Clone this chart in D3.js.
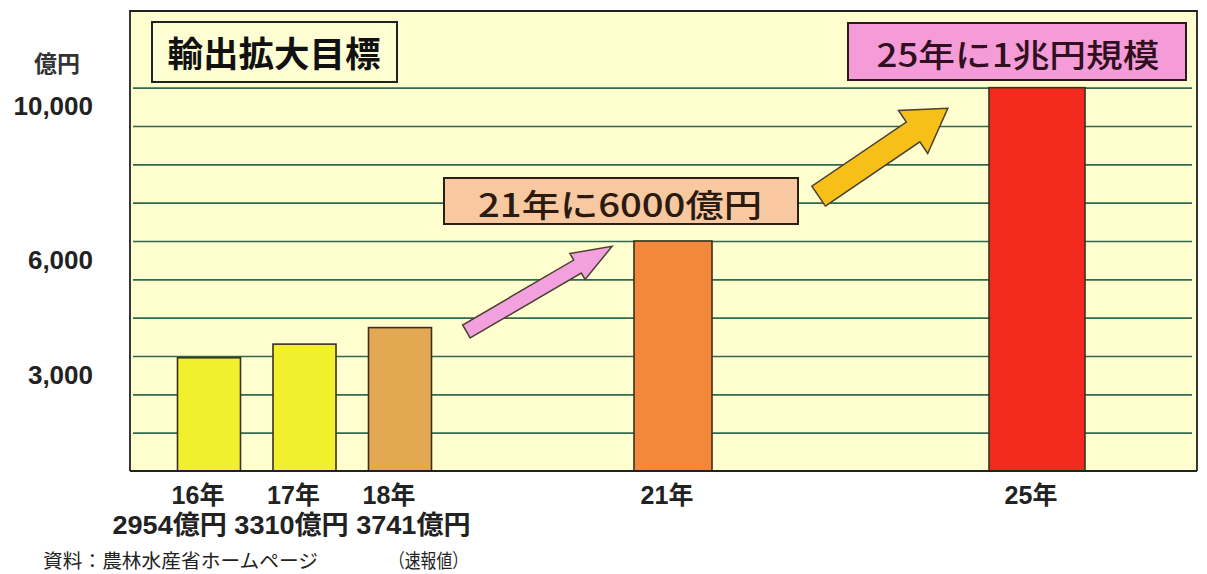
<!DOCTYPE html>
<html>
<head>
<meta charset="utf-8">
<script src="https://cdn.jsdelivr.net/npm/d3@7"></script>
<style>
  html, body { margin: 0; padding: 0; background: #ffffff; }
  svg { display: block; }
</style>
</head>
<body>
<svg id="chart" width="1207" height="574"></svg>
<script>
// ---- data ----
const years = [16, 17, 18, 21, 25];
const categories = ["16年", "17年", "18年", "21年", "25年"];
const values = [2954, 3310, 3741, 6000, 10000];
const amountLine = "2954億円 3310億円 3741億円";
const yTickValues = [3000, 6000, 10000];
const yTickLabels = ["3,000", "6,000", "10,000"];
const gridValues = [1000, 2000, 3000, 4000, 5000, 6000, 7000, 8000, 9000, 10000];
const yUnit = "億円";
const titleText = "輸出拡大目標";
const note21 = "21年に6000億円";
const note25 = "25年に1兆円規模";
const sourceText = "資料：農林水産省ホームページ";
const sourceNote = "（速報値）";
// arrows: [year, value] of tail and tip
const arrowPink = [[18.73, 3640], [20.33, 5860]];
const arrowGold = [[22.6, 7170], [24.02, 9460]];

// ---- styles ----
const barColors = ["#F2F02C", "#F2F02C", "#E2A952", "#F3883A", "#F22B1E"];
const barWidths = [63, 63, 63, 78, 96];
const jpFont = "'Liberation Sans', 'Noto Sans CJK JP', sans-serif";
const cjkFont = "'Noto Sans CJK JP', sans-serif";

const svg = d3.select("#chart");
const frame = { left: 130, right: 1197, top: 11, bottom: 471 };

const x = d3.scaleLinear().domain([16, 18, 25]).range([209, 400, 1037]);
const y = d3.scaleLinear().domain([0, 12000]).range([frame.bottom, frame.top]);

// plot background
svg.append("rect")
  .attr("x", frame.left).attr("y", frame.top)
  .attr("width", frame.right - frame.left).attr("height", frame.bottom - frame.top)
  .attr("fill", "#FFFECF");

// gridlines via axis
const gridAxis = d3.axisLeft(y).tickValues(gridValues).tickSize(-(1192 - 133)).tickFormat("");
const gg = svg.append("g").attr("transform", `translate(133,0)`).call(gridAxis);
gg.select(".domain").remove();
gg.selectAll(".tick line").attr("stroke", "#2F6A50").attr("stroke-width", 1.6);

// bars
svg.append("g").selectAll("rect").data(values).join("rect")
  .attr("x", (d, i) => x(years[i]) - barWidths[i] / 2)
  .attr("y", d => y(d))
  .attr("width", (d, i) => barWidths[i])
  .attr("height", d => y(0) - y(d))
  .attr("fill", (d, i) => barColors[i])
  .attr("stroke", "#3a3020").attr("stroke-width", 1.6);

// frame
svg.append("path")
  .attr("d", `M${frame.left},${frame.bottom} V${frame.top} H${frame.right} V${frame.bottom}`)
  .attr("fill", "none").attr("stroke", "#222").attr("stroke-width", 1.8);
svg.append("line")
  .attr("x1", frame.left).attr("x2", frame.right)
  .attr("y1", y(0)).attr("y2", y(0))
  .attr("stroke", "#222").attr("stroke-width", 2);

// y axis labels
const yAxis = d3.axisLeft(y).tickValues(yTickValues).tickSize(0)
  .tickFormat((d, i) => yTickLabels[i]);
const ya = svg.append("g").attr("transform", "translate(93,0)").call(yAxis);
ya.select(".domain").remove();
ya.selectAll(".tick text")
  .attr("x", 0).attr("dy", "1.05em")
  .attr("font-family", jpFont).attr("font-weight", "bold")
  .attr("font-size", 26).attr("fill", "#222");

svg.append("text").text(yUnit)
  .attr("x", 57).attr("y", 72).attr("text-anchor", "middle")
  .attr("font-family", cjkFont).attr("font-weight", "bold")
  .attr("font-size", 23).attr("fill", "#333");

// x labels
svg.append("g").selectAll("text").data(categories).join("text")
  .text(d => d)
  .attr("x", (d, i) => x(years[i]) - (i < 3 ? 11 : 6))
  .attr("y", 504)
  .attr("text-anchor", "middle")
  .attr("font-family", jpFont).attr("font-weight", "bold")
  .attr("font-size", 25).attr("fill", "#222");

svg.append("text").text(amountLine)
  .attr("x", x(17) - 13).attr("y", 534)
  .attr("text-anchor", "middle")
  .attr("textLength", 358).attr("lengthAdjust", "spacingAndGlyphs")
  .attr("font-family", jpFont).attr("font-weight", "bold")
  .attr("font-size", 26).attr("fill", "#222");

// title box
svg.append("rect").attr("x", 152).attr("y", 22).attr("width", 245).attr("height", 60)
  .attr("fill", "#FFFED2").attr("stroke", "#222").attr("stroke-width", 2);
svg.append("text").text(titleText)
  .attr("x", 274).attr("y", 67).attr("text-anchor", "middle")
  .attr("textLength", 213).attr("lengthAdjust", "spacingAndGlyphs")
  .attr("font-family", cjkFont).attr("font-weight", "bold")
  .attr("font-size", 35).attr("fill", "#111");

// arrows
function blockArrow(tail, tip, shaftW, headW, headL, fill) {
  const x0 = x(tail[0]), y0 = y(tail[1]), x1 = x(tip[0]), y1 = y(tip[1]);
  const dx = x1 - x0, dy = y1 - y0, len = Math.hypot(dx, dy);
  const ux = dx / len, uy = dy / len, nx = -uy, ny = ux;
  const bx = x1 - ux * headL, by = y1 - uy * headL;
  const pts = [
    [x0 + nx * shaftW / 2, y0 + ny * shaftW / 2],
    [bx + nx * shaftW / 2, by + ny * shaftW / 2],
    [bx + nx * headW / 2, by + ny * headW / 2],
    [x1, y1],
    [bx - nx * headW / 2, by - ny * headW / 2],
    [bx - nx * shaftW / 2, by - ny * shaftW / 2],
    [x0 - nx * shaftW / 2, y0 - ny * shaftW / 2]
  ];
  svg.append("path")
    .attr("d", d3.line()(pts) + "Z")
    .attr("fill", fill).attr("stroke", "#4a4030").attr("stroke-width", 1.5)
    .attr("stroke-linejoin", "miter");
}
blockArrow(arrowPink[0], arrowPink[1], 15, 30, 40, "#F2A0DE");
blockArrow(arrowGold[0], arrowGold[1], 24, 52, 42, "#F7C019");

// note boxes
svg.append("rect").attr("x", 444).attr("y", 178).attr("width", 354).attr("height", 46)
  .attr("fill", "#F8C8A0").attr("stroke", "#2a2018").attr("stroke-width", 2);
svg.append("text").text(note21)
  .attr("x", 620).attr("y", 217).attr("text-anchor", "middle")
  .attr("textLength", 284).attr("lengthAdjust", "spacingAndGlyphs")
  .attr("font-family", cjkFont).attr("font-weight", "500")
  .attr("font-size", 32).attr("fill", "#2a1a10");

svg.append("rect").attr("x", 848).attr("y", 23).attr("width", 338).attr("height", 57)
  .attr("fill", "#F59CD8").attr("stroke", "#2a1a20").attr("stroke-width", 2);
svg.append("text").text(note25)
  .attr("x", 1018).attr("y", 67).attr("text-anchor", "middle")
  .attr("textLength", 283).attr("lengthAdjust", "spacingAndGlyphs")
  .attr("font-family", cjkFont).attr("font-weight", "500")
  .attr("font-size", 32).attr("fill", "#301020");

// source
svg.append("text").text(sourceText)
  .attr("x", 43).attr("y", 568)
  .attr("textLength", 275).attr("lengthAdjust", "spacingAndGlyphs")
  .attr("font-family", cjkFont).attr("font-size", 19).attr("fill", "#222");
svg.append("text").text(sourceNote)
  .attr("x", 389).attr("y", 568)
  .attr("textLength", 79).attr("lengthAdjust", "spacingAndGlyphs")
  .attr("font-family", cjkFont).attr("font-size", 19).attr("fill", "#222");
</script>
</body>
</html>
